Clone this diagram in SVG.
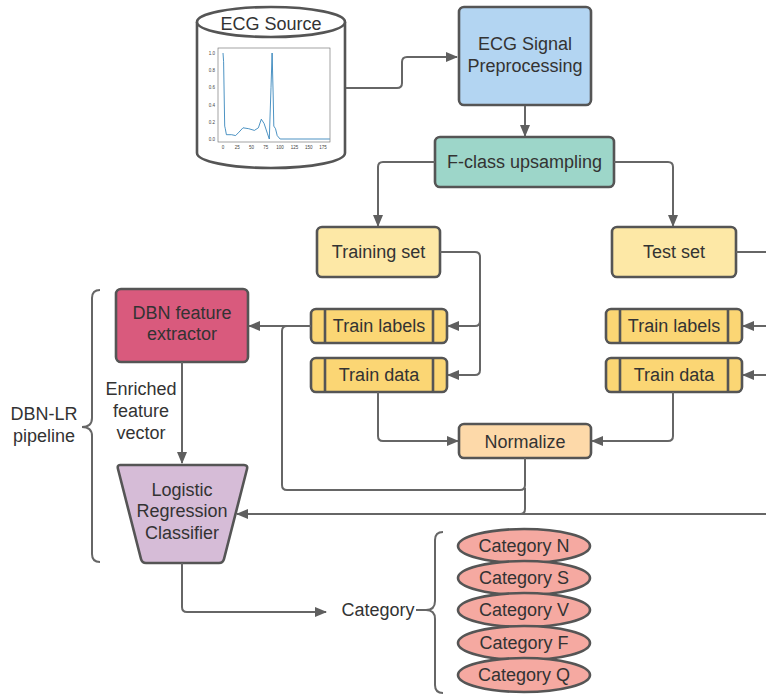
<svg xmlns="http://www.w3.org/2000/svg" width="766" height="696" viewBox="0 0 766 696">
<defs>
<marker id="ah" viewBox="0 0 12 10" refX="11" refY="5" markerWidth="12" markerHeight="10" markerUnits="userSpaceOnUse" orient="auto">
<path d="M0,0 L12,5 L0,10 Z" fill="#5f5f5f"/>
</marker>
<style>
.t{font-family:"Liberation Sans",Arial,sans-serif;font-size:18px;fill:#333;text-anchor:middle}
.n{stroke:#555;stroke-width:2.6}
.c{fill:none;stroke:#666;stroke-width:2}
.tk{font-family:"Liberation Sans",Arial,sans-serif;font-size:4.5px;fill:#444}
</style>
</defs>
<rect width="766" height="696" fill="#fff"/>

<g id="ecg-source">
<path class="n" d="M197,22 V153 A74,15 0 0 0 345,153 V22" fill="#fff"/>
<ellipse class="n" cx="271" cy="22" rx="74" ry="15" fill="#fff"/>
<text class="t" x="271" y="30">ECG Source</text>
<rect x="218" y="48" width="112" height="94" fill="#fff" stroke="#666" stroke-width="0.6"/>
<polyline fill="none" stroke="#1f77b4" stroke-width="0.8" points="223,53 223.6,61.6 224.7,126.1 225.3,128.7 226.4,134.7 231.6,134.7 235.6,135.6 239,132.1 243,127.8 248.7,128.7 254.4,130.4 258.4,127.8 261.3,119.2 264.1,123.5 267.5,133.8 269.3,139 271,87.4 272.1,53 273.2,96 273.8,126.1 275.5,128.7 277.2,135.6 280.1,139 329.8,139"/>
<g class="tk" text-anchor="end">
<text x="215" y="55">1.0</text><text x="215" y="72">0.8</text><text x="215" y="89">0.6</text><text x="215" y="107">0.4</text><text x="215" y="124">0.2</text><text x="215" y="141">0.0</text>
</g>
<g class="tk" text-anchor="middle">
<text x="223" y="149">0</text><text x="237.3" y="149">25</text><text x="251.6" y="149">50</text><text x="265.8" y="149">75</text><text x="280.1" y="149">100</text><text x="294.4" y="149">125</text><text x="308.7" y="149">150</text><text x="323" y="149">175</text>
</g>
</g>

<g id="preprocessing">
<rect class="n" x="459" y="7" width="132" height="98" rx="5" fill="#b3d5f2"/>
<text class="t" x="525" y="50">ECG Signal</text>
<text class="t" x="525" y="72">Preprocessing</text>
</g>

<g id="upsampling">
<rect class="n" x="435" y="137" width="179" height="50" rx="5" fill="#9dd6c9"/>
<text class="t" x="524.5" y="168">F-class upsampling</text>
</g>

<g id="training-set">
<rect class="n" x="317" y="227" width="123" height="50" rx="5" fill="#fde8a6"/>
<text class="t" x="378.5" y="258">Training set</text>
</g>

<g id="test-set">
<rect class="n" x="612" y="227" width="124" height="50" rx="5" fill="#fde8a6"/>
<text class="t" x="674" y="258">Test set</text>
</g>

<g id="train-labels-left">
<rect class="n" x="311" y="309" width="136" height="34" rx="5" fill="#fbd674"/>
<line class="n" x1="325" y1="309" x2="325" y2="343"/><line class="n" x1="433" y1="309" x2="433" y2="343"/>
<text class="t" x="379" y="332">Train labels</text>
</g>

<g id="train-data-left">
<rect class="n" x="311" y="358" width="136" height="34" rx="5" fill="#fbd674"/>
<line class="n" x1="325" y1="358" x2="325" y2="392"/><line class="n" x1="433" y1="358" x2="433" y2="392"/>
<text class="t" x="379" y="381">Train data</text>
</g>

<g id="train-labels-right">
<rect class="n" x="606" y="309" width="136" height="34" rx="5" fill="#fbd674"/>
<line class="n" x1="620" y1="309" x2="620" y2="343"/><line class="n" x1="728" y1="309" x2="728" y2="343"/>
<text class="t" x="674" y="332">Train labels</text>
</g>

<g id="train-data-right">
<rect class="n" x="606" y="358" width="136" height="34" rx="5" fill="#fbd674"/>
<line class="n" x1="620" y1="358" x2="620" y2="392"/><line class="n" x1="728" y1="358" x2="728" y2="392"/>
<text class="t" x="674" y="381">Train data</text>
</g>

<g id="normalize">
<rect class="n" x="459" y="424" width="132" height="34" rx="5" fill="#fdd9a9"/>
<text class="t" x="525" y="448">Normalize</text>
</g>

<g id="dbn">
<rect class="n" x="116" y="289" width="132" height="73" rx="5" fill="#d95a7d"/>
<text class="t" x="182" y="319">DBN feature</text>
<text class="t" x="182" y="340">extractor</text>
</g>

<g id="lr">
<path class="n" d="M120,465 H244 Q248,465 247,469 L224,559 Q223,563 219,563 H146 Q142,563 141,559 L118,469 Q117,465 120,465 Z" fill="#d6bcd7"/>
<text class="t" x="182" y="496">Logistic</text>
<text class="t" x="182" y="517">Regression</text>
<text class="t" x="182" y="539">Classifier</text>
</g>

<g id="dbn-lr-label">
<path class="c" d="M100,290 Q92,290 92,298 V418 Q92,427 82,427 Q92,427 92,436 V554 Q92,562 100,562"/>
<text class="t" x="44" y="420">DBN-LR</text>
<text class="t" x="44" y="442">pipeline</text>
</g>

<g id="enriched-label">
<text class="t" x="141" y="395">Enriched</text>
<text class="t" x="141" y="417">feature</text>
<text class="t" x="141" y="439">vector</text>
</g>

<g id="category">
<text class="t" x="378" y="616">Category</text>
<path class="c" d="M443,532 Q435,532 435,540 V601 Q435,610 426,610 Q435,610 435,619 V685 Q435,693 443,693 M416,610 H426"/>
</g>

<g id="cat-n"><ellipse class="n" cx="524" cy="546" rx="66" ry="17" fill="#f5a9a1"/><text class="t" x="524" y="552">Category N</text></g>
<g id="cat-s"><ellipse class="n" cx="524" cy="578" rx="66" ry="17" fill="#f5a9a1"/><text class="t" x="524" y="584">Category S</text></g>
<g id="cat-v"><ellipse class="n" cx="524" cy="610" rx="66" ry="17" fill="#f5a9a1"/><text class="t" x="524" y="616">Category V</text></g>
<g id="cat-f"><ellipse class="n" cx="524" cy="643" rx="66" ry="17" fill="#f5a9a1"/><text class="t" x="524" y="649">Category F</text></g>
<g id="cat-q"><ellipse class="n" cx="524" cy="675" rx="66" ry="17" fill="#f5a9a1"/><text class="t" x="524" y="681">Category Q</text></g>

<g id="connectors">
<path class="c" d="M346,88 H397 Q402,88 402,83 V62 Q402,57 407,57 H457" marker-end="url(#ah)"/>
<path class="c" d="M525,106 V136" marker-end="url(#ah)"/>
<path class="c" d="M435,162 H383 Q378,162 378,167 V226" marker-end="url(#ah)"/>
<path class="c" d="M614,162 H668 Q673,162 673,167 V226" marker-end="url(#ah)"/>
<path class="c" d="M440,252 H475 Q480,252 480,257 V370 Q480,375 475,375 H448" marker-end="url(#ah)"/>
<path class="c" d="M480,321 Q480,326 475,326 H448" marker-end="url(#ah)"/>
<path class="c" d="M736,252 H766"/>
<path class="c" d="M766,326 H743" marker-end="url(#ah)"/>
<path class="c" d="M766,375 H743" marker-end="url(#ah)"/>
<path class="c" d="M311,326 H249" marker-end="url(#ah)"/>
<path class="c" d="M378,392 V436 Q378,441 383,441 H458" marker-end="url(#ah)"/>
<path class="c" d="M673,392 V436 Q673,441 668,441 H592" marker-end="url(#ah)"/>
<path class="c" d="M525,458 V485 Q525,490 520,490 H287 Q282,490 282,485 V331 Q282,326 287,326"/>
<path class="c" d="M525,488 V509 Q525,514 520,514"/>
<path class="c" d="M766,514 H237" marker-end="url(#ah)"/>
<path class="c" d="M182,362 V463" marker-end="url(#ah)"/>
<path class="c" d="M182,563 V607 Q182,612 187,612 H326" marker-end="url(#ah)"/>
</g>
</svg>
